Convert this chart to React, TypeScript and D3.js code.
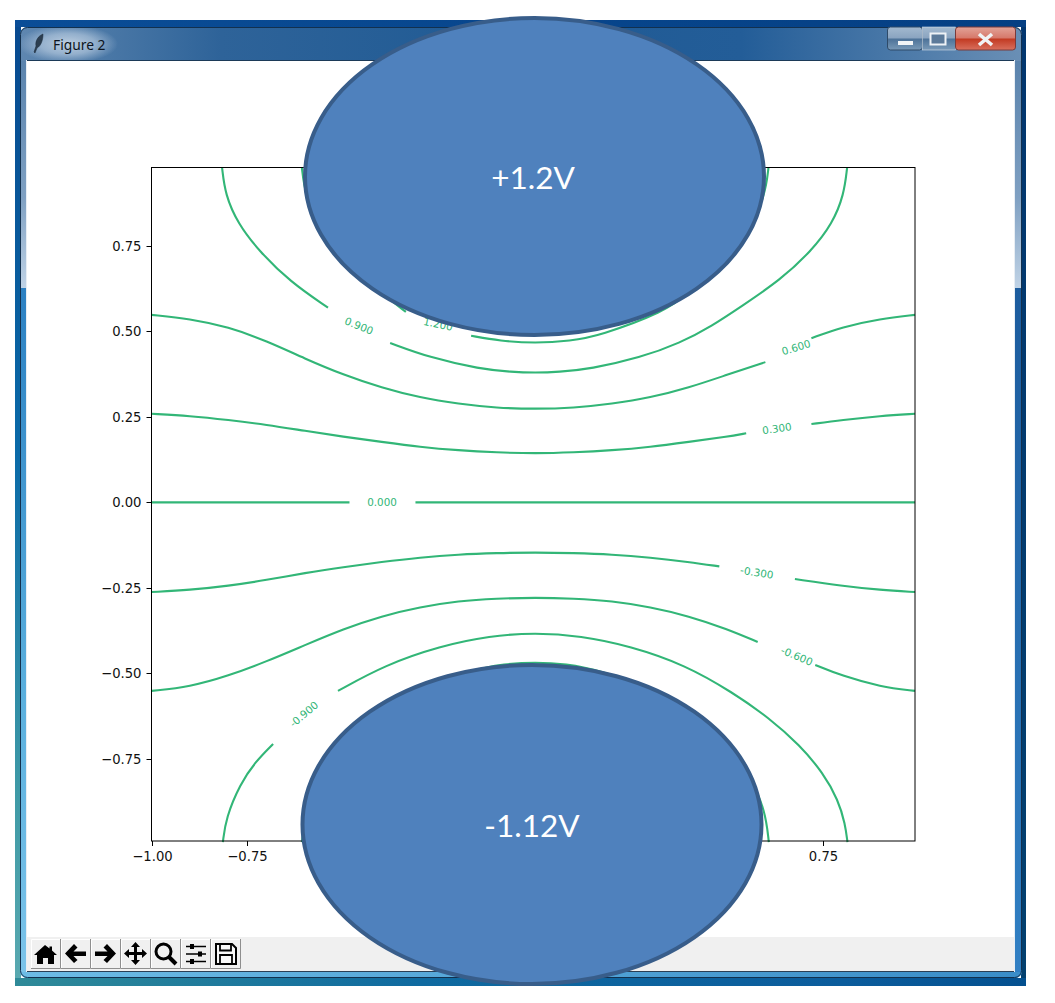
import React from "react";
import * as d3 from "d3";

type Pt = [number, number];

// ---- tick values ----
const xTickValues = [-1, -0.75, -0.5, -0.25, 0, 0.25, 0.5, 0.75];
const yTickValues = [-0.75, -0.5, -0.25, 0, 0.25, 0.5, 0.75];

// ---- contour levels, each one split where matplotlib's inline label cuts it ----
const level000: Pt[][] = [
  [[-1, 0], [-0.484, 0]],
  [[-0.312, 0], [0.99, 0]],
];
const levelP300: Pt[][] = [
  [[-1, 0.259], [-0.9, 0.253], [-0.8, 0.241], [-0.7, 0.227], [-0.6, 0.209], [-0.5, 0.192], [-0.4, 0.177], [-0.3, 0.162], [-0.2, 0.152], [-0.1, 0.146], [0, 0.143], [0.1, 0.146], [0.2, 0.152], [0.3, 0.162], [0.4, 0.177], [0.5, 0.192], [0.55, 0.202]],
  [[0.72, 0.229], [0.8, 0.241], [0.9, 0.253], [0.99, 0.259]],
];
const levelM300: Pt[][] = [
  [[-1, -0.262], [-0.9, -0.256], [-0.8, -0.244], [-0.7, -0.227], [-0.6, -0.206], [-0.5, -0.189], [-0.4, -0.174], [-0.3, -0.161], [-0.2, -0.152], [-0.1, -0.148], [0, -0.146], [0.1, -0.148], [0.2, -0.152], [0.3, -0.161], [0.4, -0.174], [0.48, -0.187]],
  [[0.677, -0.224], [0.8, -0.244], [0.9, -0.256], [0.99, -0.262]],
];
const levelP600: Pt[][] = [
  [[-1, 0.548], [-0.9, 0.537], [-0.8, 0.513], [-0.7, 0.472], [-0.6, 0.42], [-0.5, 0.373], [-0.4, 0.335], [-0.3, 0.306], [-0.2, 0.288], [-0.1, 0.276], [0, 0.273], [0.1, 0.276], [0.2, 0.288], [0.3, 0.306], [0.4, 0.335], [0.5, 0.373], [0.6, 0.41]],
  [[0.72, 0.48], [0.8, 0.513], [0.9, 0.537], [0.99, 0.548]],
];
const levelM600: Pt[][] = [
  [[-1, -0.551], [-0.9, -0.539], [-0.8, -0.507], [-0.7, -0.465], [-0.6, -0.417], [-0.5, -0.37], [-0.4, -0.332], [-0.3, -0.306], [-0.2, -0.288], [-0.1, -0.281], [0, -0.278], [0.1, -0.281], [0.2, -0.288], [0.3, -0.306], [0.4, -0.332], [0.5, -0.37], [0.58, -0.408]],
  [[0.73, -0.475], [0.8, -0.507], [0.9, -0.539], [0.99, -0.551]],
];
const levelP900: Pt[][] = [
  [[-0.816, 0.978], [-0.808, 0.9], [-0.775, 0.815], [-0.72, 0.735], [-0.639, 0.645], [-0.54, 0.569]],
  [[-0.378, 0.466], [-0.274, 0.423], [-0.144, 0.39], [-0.06, 0.381], [0, 0.379], [0.06, 0.381], [0.144, 0.39], [0.274, 0.423], [0.378, 0.466], [0.46, 0.515], [0.54, 0.575], [0.639, 0.65], [0.72, 0.735], [0.775, 0.815], [0.805, 0.9], [0.813, 0.978]],
];
const levelM900: Pt[][] = [
  [[-0.814, -0.993], [-0.806, -0.922], [-0.769, -0.823], [-0.73, -0.759], [-0.683, -0.706]],
  [[-0.514, -0.551], [-0.391, -0.475], [-0.248, -0.42], [-0.118, -0.39], [0, -0.381], [0.118, -0.39], [0.248, -0.42], [0.391, -0.475], [0.514, -0.555], [0.61, -0.63], [0.69, -0.71], [0.75, -0.79], [0.79, -0.87], [0.808, -0.94], [0.814, -0.993]],
];
const levelP1200: Pt[][] = [
  [[-0.608, 0.978], [-0.6, 0.9], [-0.56, 0.8], [-0.48, 0.7], [-0.4, 0.61], [-0.337, 0.557]],
  [[-0.167, 0.487], [-0.092, 0.472], [0, 0.465], [0.092, 0.472], [0.167, 0.487], [0.337, 0.557], [0.4, 0.61], [0.48, 0.7], [0.56, 0.8], [0.6, 0.9], [0.608, 0.978]],
];
const levelM1200: Pt[][] = [
  [[-0.608, -0.993], [-0.598, -0.9], [-0.56, -0.8], [-0.48, -0.7], [-0.4, -0.61], [-0.337, -0.557], [-0.167, -0.49], [-0.08, -0.472], [0, -0.467], [0.08, -0.472], [0.167, -0.49], [0.337, -0.557], [0.4, -0.61], [0.48, -0.7], [0.56, -0.8], [0.6, -0.9], [0.609, -0.993]],
];
const allLevels = [level000, levelP300, levelM300, levelP600, levelM600, levelP900, levelM900, levelP1200, levelM1200];

// ---- inline contour labels: text, x, y, rotation ----
const labelTexts = ["0.000", "0.300", "0.600", "0.900", "1.200", "-0.300", "-0.600", "-0.900"];
const labelX = [-0.399, 0.63, 0.68, -0.459, -0.253, 0.578, 0.682, -0.603];
const labelY = [0, 0.216, 0.453, 0.516, 0.521, -0.205, -0.449, -0.619];
const labelAngle = [0, -8, -17, 22, 12, 9, 23, -40];

// ---- the two electrode callouts ----
const calloutTexts = ["+1.2V", "-1.12V"];

const GREEN = "#32b677";

const xScale = d3.scaleLinear().domain([-1, 0.99]).range([151.5, 915]);
const yScale = d3.scaleLinear().domain([-0.75, 0.75]).range([759, 245.8]);

const contourLine = d3
  .line<Pt>()
  .x((d) => xScale(d[0]))
  .y((d) => yScale(d[1]))
  .curve(d3.curveBasis);

const fmt = (v: number) => v.toFixed(2).replace("-", "\u2212");

function ToolButton({ x, children }: { x: number; children?: React.ReactNode }) {
  return (
    <g transform={`translate(${x},939)`}>
      <rect x={0} y={0} width={29} height={29} fill="#f0f0f0" />
      <path d="M0.5 29V0.5H29" fill="none" stroke="#ffffff" />
      <path d="M0 29.5H29.5V0" fill="none" stroke="#8e8e8e" />
      {children}
    </g>
  );
}

export default function App() {
  return (
    <svg
      width={1055}
      height={1003}
      viewBox="0 0 1055 1003"
      style={{ position: "absolute", left: 0, top: 0, display: "block", background: "#fff" }}
    >
      <defs>
        <linearGradient id="outerLeft" x1="0" y1="0" x2="0" y2="1">
          <stop offset="0" stopColor="#08498f" />
          <stop offset="0.45" stopColor="#0a6aa8" />
          <stop offset="0.8" stopColor="#3f9aa6" />
          <stop offset="1" stopColor="#5aa9b0" />
        </linearGradient>
        <linearGradient id="outerRight" x1="0" y1="0" x2="0" y2="1">
          <stop offset="0" stopColor="#02366f" />
          <stop offset="1" stopColor="#03406f" />
        </linearGradient>
        <linearGradient id="outerTop" x1="0" y1="0" x2="1" y2="0">
          <stop offset="0" stopColor="#0a4d97" />
          <stop offset="1" stopColor="#053f83" />
        </linearGradient>
        <linearGradient id="outerBottom" x1="0" y1="0" x2="1" y2="0">
          <stop offset="0" stopColor="#2f8a98" />
          <stop offset="0.4" stopColor="#0f6aa0" />
          <stop offset="0.82" stopColor="#0b5c9c" />
          <stop offset="1" stopColor="#04508f" />
        </linearGradient>
        <linearGradient id="titleBar" x1="0" y1="0" x2="1" y2="0">
          <stop offset="0" stopColor="#5f87b0" />
          <stop offset="0.2" stopColor="#2e6399" />
          <stop offset="0.5" stopColor="#1f5a94" />
          <stop offset="0.72" stopColor="#235d98" />
          <stop offset="1" stopColor="#6a8fb5" />
        </linearGradient>
        <radialGradient id="titleGlow">
          <stop offset="0" stopColor="#c4d4e4" stopOpacity="0.95" />
          <stop offset="0.55" stopColor="#a9c0d8" stopOpacity="0.75" />
          <stop offset="1" stopColor="#a9c0d8" stopOpacity="0" />
        </radialGradient>
        <linearGradient id="leftGlass" x1="0" y1="0" x2="0" y2="1">
          <stop offset="0" stopColor="#5a83ad" />
          <stop offset="0.6" stopColor="#7fa0c2" />
          <stop offset="1" stopColor="#c0d3e6" />
        </linearGradient>
        <linearGradient id="leftLow" x1="0" y1="0" x2="0" y2="1">
          <stop offset="0" stopColor="#2b80c2" />
          <stop offset="0.6" stopColor="#5bb0de" />
          <stop offset="1" stopColor="#7cc4ea" />
        </linearGradient>
        <linearGradient id="rightLow" x1="0" y1="0" x2="0" y2="1">
          <stop offset="0" stopColor="#1c5c9e" />
          <stop offset="1" stopColor="#3180c4" />
        </linearGradient>
        <linearGradient id="bottomEdge" x1="0" y1="0" x2="1" y2="0">
          <stop offset="0" stopColor="#6dbce6" />
          <stop offset="1" stopColor="#3a8dc8" />
        </linearGradient>
        <linearGradient id="capBtn" x1="0" y1="0" x2="0" y2="1">
          <stop offset="0" stopColor="#a3b9cf" />
          <stop offset="0.48" stopColor="#8aa4c0" />
          <stop offset="0.52" stopColor="#4d7298" />
          <stop offset="1" stopColor="#7a9ab8" />
        </linearGradient>
        <linearGradient id="closeBtn" x1="0" y1="0" x2="0" y2="1">
          <stop offset="0" stopColor="#e2a398" />
          <stop offset="0.48" stopColor="#d6786a" />
          <stop offset="0.52" stopColor="#c23a22" />
          <stop offset="1" stopColor="#d9705e" />
        </linearGradient>
        <clipPath id="windowClip">
          <rect x={20} y={27} width={1002} height={951} rx={7} />
        </clipPath>
      </defs>

      {/* outer aero glow */}
      <rect x={15} y={20} width={6} height={966} fill="url(#outerLeft)" />
      <rect x={1021} y={20} width={5} height={966} fill="url(#outerRight)" />
      <rect x={15} y={20} width={1011} height={7} fill="url(#outerTop)" />
      <rect x={15} y={978} width={1011} height={8} fill="url(#outerBottom)" />

      {/* window frame */}
      <g clipPath="url(#windowClip)">
        <rect x={20} y={27} width={1002} height={34} fill="url(#titleBar)" />
        <ellipse cx={68} cy={44} rx={50} ry={19} fill="url(#titleGlow)" />
        <rect x={20} y={61} width={7} height={227} fill="url(#leftGlass)" />
        <rect x={20} y={288} width={7} height={690} fill="url(#leftLow)" />
        <rect x={1015} y={61} width={7} height={227} fill="url(#leftGlass)" />
        <rect x={1015} y={288} width={7} height={690} fill="url(#rightLow)" />
        <rect x={20} y={972} width={1002} height={6} fill="url(#bottomEdge)" />
      </g>
      <rect x={20.5} y={27.5} width={1001} height={950} rx={7} fill="none" stroke="#12304e" strokeWidth={1} />
      <rect x={26.5} y={60.5} width={988} height={911} fill="#ffffff" stroke="#e8eef4" strokeWidth={1} />
      <path d="M27 60.5H1014" stroke="#1c3a58" strokeWidth={1} />
      <path d="M27 971.5H1014" stroke="#2a3f55" strokeWidth={1} />

      {/* title */}
      <path d="M34 52 L36 46 C35 41 38 36 43 34 C43 40 41 46 37 48 L35 53 Z" fill="#2c3e50" stroke="#1a2a3a" strokeWidth={0.5} />
      <text x={53} y={49.5} fontFamily="'Noto Sans', 'Open Sans', sans-serif" fontSize={13.8} fill="#0c1420">
        Figure 2
      </text>

      {/* caption buttons */}
      <rect x={887.5} y={27} width={35} height={23} rx={3} fill="url(#capBtn)" stroke="#2e4a68" />
      <rect x={922.5} y={27} width={33} height={23} fill="url(#capBtn)" stroke="#d4dee8" strokeWidth={0.6} />
      <rect x={955.5} y={27} width={60} height={23} rx={3} fill="url(#closeBtn)" stroke="#7a3a3a" />
      <rect x={898} y={41} width={15} height={4} fill="#f2f4f6" />
      <rect x={930.5} y={33.5} width={15} height={11} fill="#5c7a9a" stroke="#eef2f6" strokeWidth={2} />
      <path d="M979 34 L992 45 M992 34 L979 45" stroke="#f0f2f4" strokeWidth={3.6} />

      {/* toolbar */}
      <rect x={27} y={937} width={987} height={34} fill="#f0f0f0" />
      <ToolButton x={31}>
        <path d="M14 6 L3 16 L6 16 L6 25 L12 25 L12 19 L17 19 L17 25 L23 25 L23 16 L26 16 L21 11.5 L21 7.5 L18.5 7.5 L18.5 9.5 Z" fill="#000" />
      </ToolButton>
      <ToolButton x={61}>
        <path d="M13 5 L4 14.5 L13 24 L16.5 21 L12.5 17 L25 17 L25 12.5 L12.5 12.5 L16.5 8.5 Z" fill="#000" />
      </ToolButton>
      <ToolButton x={91}>
        <path d="M16 5 L25 14.5 L16 24 L12.5 21 L16.5 17 L4 17 L4 12.5 L16.5 12.5 L12.5 8.5 Z" fill="#000" />
      </ToolButton>
      <ToolButton x={121}>
        <path d="M14.5 3 L19 8 L16 8 L16 13 L21 13 L21 10 L26 14.5 L21 19 L21 16 L16 16 L16 21 L19 21 L14.5 26 L10 21 L13 21 L13 16 L8 16 L8 19 L3 14.5 L8 10 L8 13 L13 13 L13 8 L10 8 Z" fill="#000" />
      </ToolButton>
      <ToolButton x={151}>
        <circle cx={12.5} cy={12.5} r={7.5} fill="none" stroke="#000" strokeWidth={3} />
        <path d="M18 18 L25 25" stroke="#000" strokeWidth={4} />
      </ToolButton>
      <ToolButton x={181}>
        <path d="M5 7.5H25M5 15H25M5 22.5H25" stroke="#000" strokeWidth={1.5} />
        <rect x={9} y={5} width={4} height={5} fill="#000" />
        <rect x={17} y={12.5} width={4} height={5} fill="#000" />
        <rect x={9} y={20} width={4} height={5} fill="#000" />
      </ToolButton>
      <ToolButton x={211}>
        <path d="M5 5 H21 L25 9 V25 H5 Z" fill="#f8f8f8" stroke="#000" strokeWidth={2} />
        <path d="M9 5.5 V11.5 H20 V5.5" fill="none" stroke="#000" strokeWidth={1.8} />
        <path d="M9 24.5 V16 H21 V24.5" fill="none" stroke="#000" strokeWidth={1.8} />
      </ToolButton>

      {/* contours */}
      <g fill="none" stroke={GREEN} strokeWidth={2.1}>
        {allLevels.map((segments, i) =>
          segments.map((seg, j) => <path key={`${i}-${j}`} d={contourLine(seg) ?? ""} />)
        )}
      </g>
      <g fontFamily="'DejaVu Sans', sans-serif" fontSize={10.4} fill={GREEN} textAnchor="middle">
        {labelTexts.map((t, i) => (
          <text
            key={t}
            transform={`translate(${xScale(labelX[i])},${yScale(labelY[i])}) rotate(${labelAngle[i]})`}
            dy="0.36em"
          >
            {t}
          </text>
        ))}
      </g>

      {/* axes */}
      <rect x={151.5} y={167.5} width={763.5} height={673.5} fill="none" stroke="#000" strokeWidth={1} />
      <g fontFamily="'DejaVu Sans', sans-serif" fontSize={13.2} fill="#111">
        {xTickValues.map((v) => (
          <g key={v} transform={`translate(${Math.round(xScale(v)) + 0.5},841)`}>
            <line y2={5} stroke="#000" />
            <text y={20} textAnchor="middle">{fmt(v)}</text>
          </g>
        ))}
        {yTickValues.map((v) => (
          <g key={v} transform={`translate(151.5,${Math.round(yScale(v)) + 0.5})`}>
            <line x2={-5} stroke="#000" />
            <text x={-10} dy="0.36em" textAnchor="end">{fmt(v)}</text>
          </g>
        ))}
      </g>

      {/* electrode callouts */}
      <ellipse cx={534.5} cy={176.5} rx={229.5} ry={158.5} fill="#4f81bd" stroke="#385d8a" strokeWidth={4} />
      <ellipse cx={532} cy={824.5} rx={229.5} ry={159.5} fill="#4f81bd" stroke="#385d8a" strokeWidth={4} />
      <g fontFamily="Lato, 'Open Sans', sans-serif" fontSize={31.5} fill="#ffffff" textAnchor="middle">
        <text x={533} y={189}>{calloutTexts[0]}</text>
        <text x={532} y={837}>{calloutTexts[1]}</text>
      </g>
    </svg>
  );
}
